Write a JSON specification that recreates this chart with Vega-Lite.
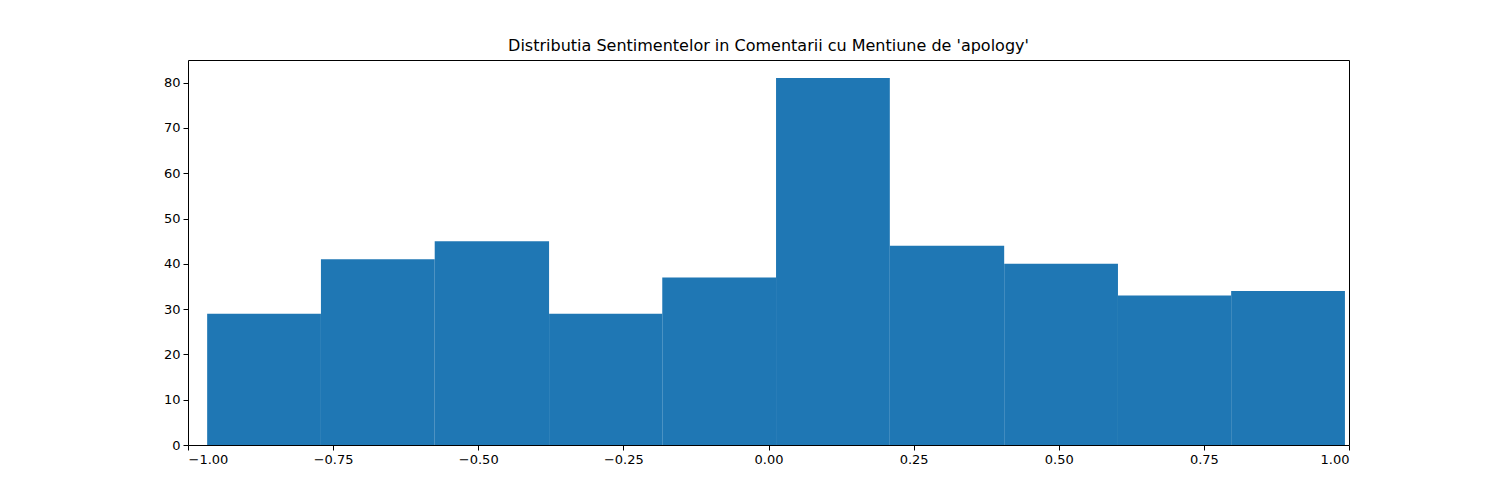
{
  "$schema": "https://vega.github.io/schema/vega-lite/v6.json",
  "width": 1161,
  "height": 385,
  "autosize": {"type": "none"},
  "padding": {"left": 188, "top": 60, "right": 151, "bottom": 55},
  "background": "white",
  "title": {"text": "Distributia Sentimentelor in Comentarii cu Mentiune de 'apology'", "font": "DejaVu Sans", "fontSize": 16, "fontWeight": "normal", "color": "black", "offset": 6},
  "config": {"view": {"stroke": "black", "strokeWidth": 1}},
  "data": {"values": [
    {"start": -0.967, "end": -0.771, "count": 29},
    {"start": -0.771, "end": -0.575, "count": 41},
    {"start": -0.575, "end": -0.378, "count": 45},
    {"start": -0.378, "end": -0.183, "count": 29},
    {"start": -0.183, "end": 0.013, "count": 37},
    {"start": 0.013, "end": 0.209, "count": 81},
    {"start": 0.209, "end": 0.406, "count": 44},
    {"start": 0.406, "end": 0.602, "count": 40},
    {"start": 0.602, "end": 0.797, "count": 33},
    {"start": 0.797, "end": 0.993, "count": 34}
  ]},
  "mark": {"type": "bar", "color": "#1f77b4"},
  "encoding": {
    "x": {"field": "start", "type": "quantitative", "scale": {"domain": [-1, 1], "nice": false, "zero": false, "padding": 0},
      "axis": {"title": null, "values": [-1, -0.75, -0.5, -0.25, 0, 0.25, 0.5, 0.75, 1], "format": ".2f", "grid": false, "domain": false, "offset": 0, "tickColor": "black", "tickSize": 5, "labelColor": "black", "labelFont": "DejaVu Sans", "labelFontSize": 13, "labelPadding": 3}},
    "x2": {"field": "end"},
    "y": {"field": "count", "type": "quantitative", "scale": {"domain": [0, 85], "nice": false, "padding": 0},
      "axis": {"title": null, "values": [0, 10, 20, 30, 40, 50, 60, 70, 80], "grid": false, "domain": false, "offset": 0, "tickColor": "black", "tickSize": 5, "labelColor": "black", "labelFont": "DejaVu Sans", "labelFontSize": 13, "labelPadding": 3}},
    "y2": {"datum": 0}
  }
}
